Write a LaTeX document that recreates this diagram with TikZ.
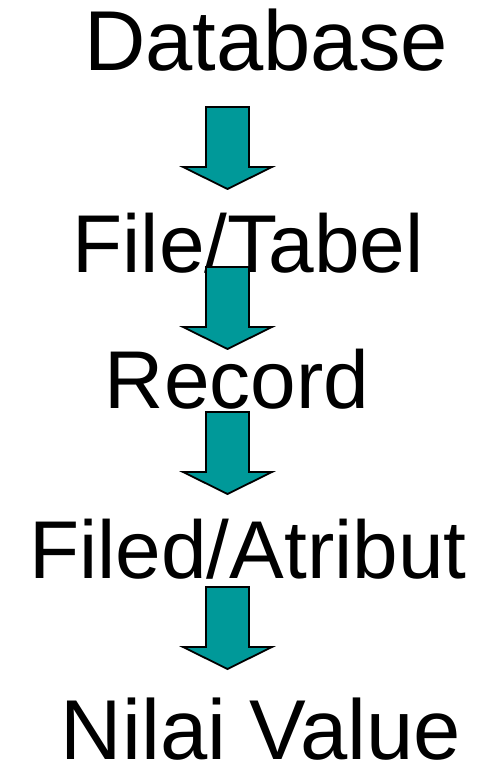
\documentclass[tikz,border=0pt]{standalone}
\usepackage{fontspec}
\setmainfont{Liberation Sans}
\definecolor{arrowteal}{HTML}{009999}
\tikzset{
  x=1pt, y=1pt,
  label/.style={inner sep=0pt, outer sep=0pt, anchor=base, font=\fontsize{82}{96}\selectfont},
  biglabel/.style={label, font=\fontsize{85}{100}\selectfont},
  blockarrow/.pic={
    \filldraw[fill=arrowteal, draw=black, line width=1.8pt, line join=miter]
      (-21.5,0) -- (21.5,0) -- (21.5,-60) -- (44.5,-60) -- (0,-82)
      -- (-44.5,-60) -- (-21.5,-60) -- cycle;
  }
}
\begin{document}
\begin{tikzpicture}
\useasboundingbox (0,0) rectangle (481,768);
\node[biglabel] (db) at (266,697) {Database};
\node[label] (file) at (248,495) {File/Tabel};
\node[label] (rec) at (237,359) {Record};
\node[label] (field) at (248,189) {Filed/Atribut};
\node[biglabel] (val) at (261,9) {Nilai Value};
\coordinate (a1) at (227.5,661);
\coordinate (a2) at (227.5,501);
\coordinate (a3) at (227.5,356);
\coordinate (a4) at (227.5,181);
\pic at (a1) {blockarrow};
\pic at (a2) {blockarrow};
\pic at (a3) {blockarrow};
\pic at (a4) {blockarrow};
\end{tikzpicture}
\end{document}
